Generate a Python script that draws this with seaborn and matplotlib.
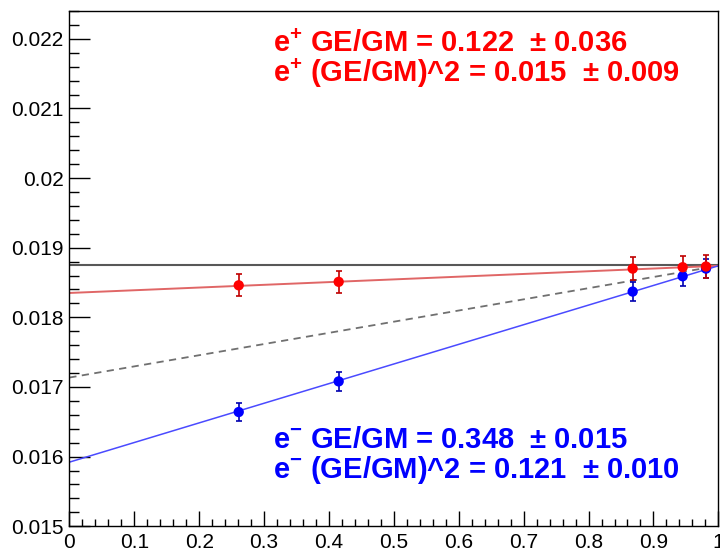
import numpy as np
import matplotlib
matplotlib.use("Agg")
import matplotlib.pyplot as plt
import seaborn as sns
from matplotlib.ticker import MultipleLocator, FormatStrFormatter

# ---- data ----
x_pts = [0.261, 0.415, 0.868, 0.945, 0.981]
pos_y = [0.01846, 0.01851, 0.01870, 0.01872, 0.01873]
pos_err = [0.00016, 0.00016, 0.00016, 0.00016, 0.00016]
ele_y = [0.01664, 0.01708, 0.01837, 0.01859, 0.01870]
ele_err = [0.00013, 0.00014, 0.00014, 0.00014, 0.00014]

fit_x = [0.0, 1.0]
pos_fit = [0.01835, 0.01874]
ele_fit = [0.01592, 0.01874]
mid_fit = [0.017135, 0.01874]
ref_level = 0.01875

pos_lines = ["e$^{\\mathbf{+}}$ GE/GM = 0.122  \u00b1 0.036",
             "e$^{\\mathbf{+}}$ (GE/GM)^2 = 0.015  \u00b1 0.009"]
ele_lines = ["e$^{\\mathbf{-}}$ GE/GM = 0.348  \u00b1 0.015",
             "e$^{\\mathbf{-}}$ (GE/GM)^2 = 0.121  \u00b1 0.010"]

sns.set_style("white")
plt.rcParams["font.family"] = ["Liberation Sans", "DejaVu Sans"]
plt.rcParams["mathtext.fontset"] = "custom"
plt.rcParams["mathtext.rm"] = "Liberation Sans"
plt.rcParams["mathtext.bf"] = "Liberation Sans:bold"

fig = plt.figure(figsize=(7.2, 5.52), dpi=100)
ax = fig.add_axes([0.0963, 0.0467, 0.9014, 0.9334])

ax.axhline(ref_level, color="#585858", lw=1.5, zorder=1)
sns.lineplot(x=fit_x, y=mid_fit, ax=ax, color="#707070", lw=1.3,
             linestyle=(0, (4, 3)), zorder=1)
sns.lineplot(x=fit_x, y=pos_fit, ax=ax, color="#e06666", lw=1.4, zorder=2)
sns.lineplot(x=fit_x, y=ele_fit, ax=ax, color="#4a4aff", lw=1.1, zorder=2)

ax.errorbar(x_pts, ele_y, yerr=ele_err, fmt="none", ecolor="#0000b0",
            elinewidth=1.2, capsize=2.5, capthick=1.2, zorder=3)
ax.errorbar(x_pts, pos_y, yerr=pos_err, fmt="none", ecolor="#c00000",
            elinewidth=1.2, capsize=2.5, capthick=1.2, zorder=3)
sns.scatterplot(x=x_pts, y=ele_y, ax=ax, color="#0000ff", s=55,
                edgecolor="none", zorder=4)
sns.scatterplot(x=x_pts, y=pos_y, ax=ax, color="#ff0000", s=55,
                edgecolor="none", zorder=4)

ax.set_xlim(0, 1)
ax.set_ylim(0.015, 0.0224)
ax.xaxis.set_major_locator(MultipleLocator(0.1))
ax.xaxis.set_minor_locator(MultipleLocator(0.02))
ax.yaxis.set_major_locator(MultipleLocator(0.001))
ax.yaxis.set_minor_locator(MultipleLocator(0.0002))
ax.xaxis.set_major_formatter(FormatStrFormatter("%g"))
ax.yaxis.set_major_formatter(FormatStrFormatter("%g"))

ax.tick_params(which="both", left=True, bottom=True, right=False, top=False)
ax.tick_params(axis="y", which="major", direction="in", length=15, width=1,
               pad=4, labelsize=15, colors="black")
ax.tick_params(axis="y", which="minor", direction="in", length=7.5, width=1,
               colors="black")
ax.tick_params(axis="x", which="major", direction="in", length=11, width=1,
               pad=5, labelsize=15, colors="black")
ax.tick_params(axis="x", which="minor", direction="in", length=5, width=1,
               colors="black")
for s in ax.spines.values():
    s.set_color("black")
    s.set_linewidth(1.0)

fs = 21
ax.text(273 / 720, 1 - 52 / 552, pos_lines[0], transform=fig.transFigure,
        color="#ff0000", fontsize=fs, fontweight="bold", va="baseline")
ax.text(273 / 720, 1 - 82 / 552, pos_lines[1], transform=fig.transFigure,
        color="#ff0000", fontsize=fs, fontweight="bold", va="baseline")
ax.text(273 / 720, 1 - 448 / 552, ele_lines[0], transform=fig.transFigure,
        color="#0000ff", fontsize=fs, fontweight="bold", va="baseline")
ax.text(273 / 720, 1 - 478 / 552, ele_lines[1], transform=fig.transFigure,
        color="#0000ff", fontsize=fs, fontweight="bold", va="baseline")

fig.savefig("out.png", dpi=100)
